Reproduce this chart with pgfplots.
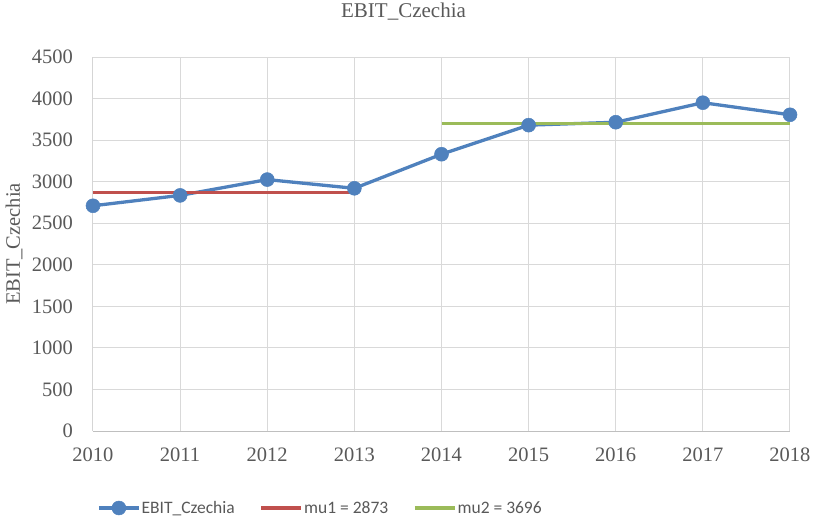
\documentclass[border=0pt]{standalone}
\usepackage{pgfplots}
\pgfplotsset{compat=1.18}
\usepackage{fontspec}
\setmainfont{Liberation Serif}
\newfontfamily\legfont{Carlito}
\definecolor{cblue}{HTML}{4F81BD}
\definecolor{cred}{HTML}{C0504D}
\definecolor{cgreen}{HTML}{9BBB59}
\definecolor{cgrid}{HTML}{D9D9D9}
\definecolor{caxis}{HTML}{BFBFBF}
\definecolor{ctext}{HTML}{595959}
\begin{document}
\begin{tikzpicture}
\path[use as bounding box] (-93pt,-88pt) rectangle (720pt,431pt);
\begin{axis}[
  scale only axis,
  width=697pt, height=374pt,
  xmin=2010, xmax=2018, ymin=0, ymax=4500,
  xtick={2010,...,2018}, ytick={0,500,...,4500},
  /pgf/number format/assume math mode=true,
  x tick label style={/pgf/number format/1000 sep={}},
  y tick label style={/pgf/number format/1000 sep={}},
  xticklabel style={font=\fontsize{20.5}{24}\selectfont, text=ctext, anchor=center, yshift=-24pt, inner sep=0pt},
  yticklabel style={font=\fontsize{20.5}{24}\selectfont, text=ctext, anchor=east, xshift=-20pt, inner sep=0pt},
  grid=major,
  major grid style={cgrid, line width=1pt},
  axis line style={draw=none},
  tick style={draw=none},
  title={EBIT\_Czechia},
  title style={font=\fontsize{21}{24}\selectfont, text=ctext, at={(axis description cs:0.5,1)}, anchor=center, xshift=-38pt, yshift=39pt, inner sep=0pt},
  ylabel={EBIT\_Czechia},
  ylabel style={font=\fontsize{20.5}{24}\selectfont, text=ctext, at={(axis description cs:0,0.5)}, anchor=center, yshift=79pt, inner sep=0pt},
  legend style={at={(axis description cs:0,0)}, anchor=center, xshift=227pt, yshift=-77pt,
    draw=none, fill=none, legend columns=-1, text=ctext,
    font=\legfont\fontsize{17.5}{20}\selectfont,
    nodes={inner xsep=1pt, inner ysep=1pt},
    /tikz/every odd column/.append style={column sep=0pt},
    /tikz/every even column/.append style={column sep=24pt}},
  legend image code/.code={\draw[#1] (0pt,0pt) -- (40pt,0pt);
    \path[#1, mark repeat=1] plot coordinates {(20pt,0pt)};},
]
\addplot[cblue, line width=3.3pt, mark=*, mark size=7pt, mark options={fill=cblue, draw=cblue, line width=0.5pt}]
 coordinates {(2010,2710) (2011,2835) (2012,3025) (2013,2920) (2014,3330) (2015,3680) (2016,3715) (2017,3950) (2018,3805)};
\addlegendentry{EBIT\_Czechia}
\addplot[cred, line width=3.3pt, mark=none] coordinates {(2010,2873) (2013,2873)};
\addlegendentry{mu1 = 2873}
\addplot[cgreen, line width=3.3pt, mark=none] coordinates {(2014,3696) (2018,3696)};
\addlegendentry{mu2 = 3696}
\draw[caxis, line width=1pt] (axis cs:2010,0) -- (axis cs:2018,0);
\draw[caxis, line width=1pt] (axis cs:2010,0) -- (axis cs:2010,4500);
\end{axis}
\end{tikzpicture}
\end{document}
